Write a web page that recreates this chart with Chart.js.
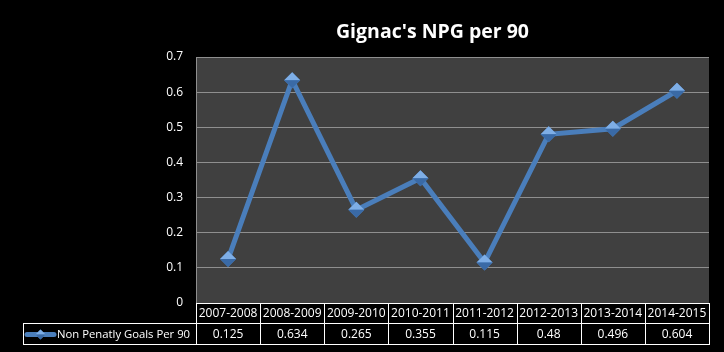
<!DOCTYPE html>
<html>
<head>
<meta charset="utf-8">
<script src="https://cdn.jsdelivr.net/npm/chart.js@4/dist/chart.umd.min.js"></script>
<style>
html,body{margin:0;padding:0;background:#000;}
#wrap{width:724px;height:352px;position:relative;}
</style>
</head>
<body>
<div id="wrap"><canvas id="c" width="724" height="352"></canvas></div>
<script>
const seasons = ['2007-2008','2008-2009','2009-2010','2010-2011','2011-2012','2012-2013','2013-2014','2014-2015'];
const npgPer90 = [0.125, 0.634, 0.265, 0.355, 0.115, 0.48, 0.496, 0.604];
const seriesName = 'Non Penatly Goals Per 90';
const chartTitle = "Gignac's NPG per 90";
const valueLabels = ['0.125','0.634','0.265','0.355','0.115','0.48','0.496','0.604'];

const FONT = "'Open Sans', 'DejaVu Sans', sans-serif";
const LINE = '#4a7ebb';

const bgPlugin = {
  id: 'bg',
  beforeDraw(chart) {
    const {ctx, chartArea: a} = chart;
    ctx.save();
    ctx.fillStyle = '#000';
    ctx.fillRect(0, 0, chart.width, chart.height);
    ctx.fillStyle = '#404040';
    ctx.fillRect(a.left, a.top, a.right - a.left, a.bottom - a.top);
    ctx.restore();
  }
};

function drawDiamond(ctx, x, y, r) {
  ctx.save();
  ctx.beginPath();
  ctx.moveTo(x, y - r); ctx.lineTo(x + r, y); ctx.lineTo(x, y + r); ctx.lineTo(x - r, y); ctx.closePath();
  ctx.fillStyle = '#4f86c6';
  ctx.fill();
  ctx.beginPath();
  ctx.moveTo(x, y - r); ctx.lineTo(x + r, y); ctx.lineTo(x - r, y); ctx.closePath();
  ctx.fillStyle = '#7eaee6';
  ctx.fill();
  ctx.beginPath();
  ctx.moveTo(x - r, y); ctx.lineTo(x + r, y); ctx.lineTo(x, y + r); ctx.closePath();
  ctx.fillStyle = '#3a6aa6';
  ctx.fill();
  ctx.restore();
}

const markerPlugin = {
  id: 'markers',
  afterDatasetsDraw(chart) {
    const meta = chart.getDatasetMeta(0);
    meta.data.forEach(p => drawDiamond(chart.ctx, p.x, p.y, 8));
  }
};

const tablePlugin = {
  id: 'table',
  afterDraw(chart) {
    const {ctx, chartArea: a, scales: {x}} = chart;
    const top = a.bottom, mid = a.bottom + 20, bot = a.bottom + 41;
    const legLeft = 23;
    const n = seasons.length;
    const w = (a.right - a.left) / n;
    ctx.save();
    ctx.strokeStyle = '#ffffff';
    ctx.lineWidth = 1;
    ctx.beginPath();
    ctx.moveTo(a.left, top + 0.5); ctx.lineTo(a.right, top + 0.5);
    ctx.moveTo(legLeft, mid + 0.5); ctx.lineTo(a.right, mid + 0.5);
    ctx.moveTo(legLeft, bot + 0.5); ctx.lineTo(a.right, bot + 0.5);
    ctx.moveTo(legLeft + 0.5, mid); ctx.lineTo(legLeft + 0.5, bot + 1);
    for (let i = 0; i <= n; i++) {
      const xx = Math.round(a.left + i * w) + 0.5;
      ctx.moveTo(xx, top); ctx.lineTo(xx, bot + 1);
    }
    ctx.stroke();
    // values row
    ctx.fillStyle = '#ffffff';
    ctx.font = '12px ' + FONT;
    ctx.textAlign = 'center';
    ctx.textBaseline = 'middle';
    const cy = (mid + bot) / 2 + 1;
    valueLabels.forEach((v, i) => {
      ctx.fillText(v, x.getPixelForValue(i), cy);
    });
    // legend key
    ctx.strokeStyle = LINE;
    ctx.lineWidth = 5;
    ctx.lineCap = 'round';
    ctx.beginPath();
    ctx.moveTo(27, cy); ctx.lineTo(54, cy);
    ctx.stroke();
    drawDiamond(ctx, 40.5, cy, 5);
    ctx.textAlign = 'left';
    ctx.fillStyle = '#ffffff';
    ctx.font = '11.3px ' + FONT;
    ctx.fillText(seriesName, 57, cy);
    ctx.restore();
  }
};

new Chart(document.getElementById('c'), {
  type: 'line',
  data: {
    labels: seasons,
    datasets: [{
      label: seriesName,
      data: npgPer90,
      borderColor: LINE,
      borderWidth: 5,
      pointRadius: 0,
      pointHoverRadius: 0,
      tension: 0,
      fill: false
    }]
  },
  plugins: [bgPlugin, markerPlugin, tablePlugin],
  options: {
    responsive: false,
    animation: false,
    devicePixelRatio: 1,
    layout: { padding: { left: 156, right: 15, top: 0, bottom: 29 } },
    plugins: {
      legend: { display: false },
      tooltip: { enabled: false },
      title: {
        display: true,
        text: chartTitle,
        color: '#ffffff',
        font: { family: FONT, size: 19.5, weight: 'bold', lineHeight: 1.2 },
        padding: { top: 21, bottom: 12.6 }
      }
    },
    scales: {
      x: {
        offset: true,
        grid: { display: false, drawTicks: false },
        border: { display: false },
        ticks: { color: '#ffffff', font: { family: FONT, size: 12 }, padding: 3, maxRotation: 0, autoSkip: false },
        afterFit(s) { s.height = 20; }
      },
      y: {
        min: 0,
        max: 0.7,
        ticks: { stepSize: 0.1, color: '#ffffff', font: { family: FONT, size: 12 }, padding: 13,
          callback: v => String(Math.round(v * 10) / 10) },
        grid: { color: '#8f8f8f', lineWidth: 1, drawTicks: false },
        border: { display: true, color: '#8f8f8f' },
        afterFit(s) { s.width = 40; }
      }
    }
  }
});
</script>
</body>
</html>
